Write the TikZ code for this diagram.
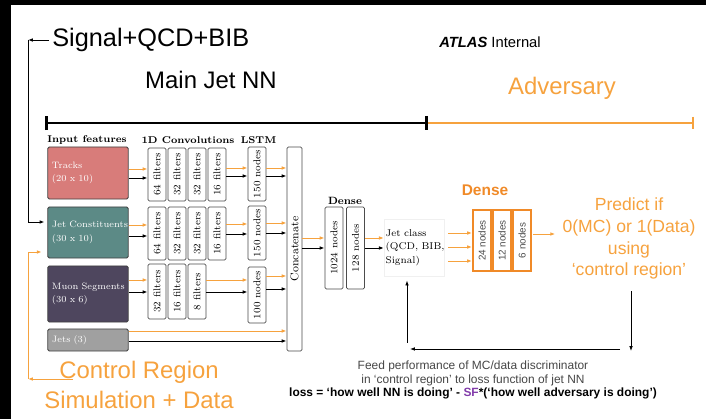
\documentclass[tikz,border=0pt]{standalone}
\usepackage{fontspec}
\usepackage{graphicx}
\usepackage{tikz}
\usetikzlibrary{arrows.meta}

\newfontfamily\helv{Liberation Sans}
\definecolor{trackred}{RGB}{216,124,122}
\definecolor{constteal}{RGB}{92,138,134}
\definecolor{muonpurple}{RGB}{78,70,94}
\definecolor{jetgray}{RGB}{160,160,160}
\definecolor{advorange}{RGB}{240,138,40}
\definecolor{lineorange}{RGB}{246,162,62}
\definecolor{sfpurple}{RGB}{130,60,170}
\definecolor{feedgray}{RGB}{70,70,70}

\begin{document}
\begin{tikzpicture}[x=0.025cm, y=-0.025cm,
    inbox/.style={draw=black!75, line width=0.6pt, rounded corners=1pt, text=white, align=left,
      inner sep=3pt, text width=1.8cm, font=\fontsize{6.6}{9.5}\selectfont},
    layer/.style={draw=black!70, line width=0.6pt, rounded corners=1pt, fill=white, inner sep=0pt,
      minimum width=0.45cm, font=\fontsize{7}{8}\selectfont},
    advlayer/.style={draw=advorange, line width=1.3pt, inner sep=0pt, minimum width=0.45cm,
      minimum height=1.525cm, text=black!70, font=\helv\fontsize{7}{8}\selectfont},
    head/.style={inner sep=0pt, font=\fontsize{7}{8}\selectfont\bfseries},
    big/.style={inner sep=0pt, font=\helv\fontsize{17}{20}\selectfont},
    arr/.style={-{Latex[length=3.5pt,width=2.6pt]}, line width=0.7pt},
    oarr/.style={arr, draw=lineorange}]
  \useasboundingbox (0,0) rectangle (706,419);

  % frame edges of the slide
  \fill[black] (0,0) rectangle (706,5);
  \fill[black] (0,0) rectangle (11,419);

  % Titles
  \node[big, anchor=west, font=\helv\fontsize{18}{20}\selectfont] (sig) at (52,40) {Signal+QCD+BIB};
  \node[big] (mainnn) at (211,80) {Main Jet NN};
  \node[inner sep=0pt, font=\helv\fontsize{10.5}{12}\selectfont] (atlas) at (490,42) {\textbf{\textit{ATLAS}} Internal};
  \node[big, text=lineorange] (adv) at (562,88) {Adversary};
  \node[big, text=lineorange] (ctrl) at (139,372) {Control Region};
  \node[big, text=lineorange] (sim) at (139,400) {Simulation + Data};

  % Bar splitting main net and adversary
  \coordinate (barL) at (45,123);
  \coordinate (barM) at (428,123);
  \coordinate (barR) at (694,123);
  \draw[lineorange, line width=1.3pt, -{Bar[width=9pt]}] (barM) -- (barR);
  \draw[black, line width=1.8pt, {Bar[width=10pt]}-{Bar[width=10pt]}] (barL) -- (barM);

  % Column headings
  \node[head] (inlbl) at (87,140) {Input features};
  \node[head] (convlbl) at (188,140) {1D Convolutions};
  \node[head] (lstmlbl) at (258.5,140) {LSTM};
  \node[head, font=\fontsize{7.5}{8}\selectfont\bfseries] (denselbl) at (345,201) {Dense};
  \node[inner sep=0pt, text=advorange, font=\helv\fontsize{11}{12}\selectfont\bfseries] (advdense) at (485,190) {Dense};

  % Input features
  \node[inbox, fill=trackred, minimum height=1.3cm] (tracks) at (88,173) {Tracks\\(20 x 10)};
  \node[inbox, fill=constteal, minimum height=1.275cm] (jetc) at (88,232.5) {\mbox{Jet Constituents}\\(30 x 10)};
  \node[inbox, fill=muonpurple, minimum height=1.4cm] (muon) at (88,294) {\mbox{Muon Segments}\\(30 x 6)};
  \node[inbox, fill=jetgray, minimum height=0.55cm] (jets) at (88,340) {Jets (3)};

  % Convolution layers
  \foreach \lbl [count=\i] in {64 filters,32 filters,32 filters,16 filters}
    \node[layer, minimum height=1.325cm] (c1\i) at ({137+20*\i},174.5) {\rotatebox{90}{\lbl}};
  \foreach \lbl [count=\i] in {64 filters,32 filters,32 filters,16 filters}
    \node[layer, minimum height=1.325cm] (c2\i) at ({137+20*\i},233.5) {\rotatebox{90}{\lbl}};
  \foreach \lbl [count=\i] in {32 filters,16 filters,8 filters}
    \node[layer, minimum height=1.375cm] (c3\i) at ({137+20*\i},291.5) {\rotatebox{90}{\lbl}};

  % LSTM layers
  \node[layer, minimum height=1.35cm] (l1) at (257,174) {\rotatebox{90}{150 nodes}};
  \node[layer, minimum height=1.35cm] (l2) at (257,233) {\rotatebox{90}{150 nodes}};
  \node[layer, minimum height=1.4cm] (l3) at (257,295) {\rotatebox{90}{100 nodes}};

  % Concatenate and dense layers
  \node[layer, minimum width=0.375cm, minimum height=5.1cm, font=\fontsize{8}{9}\selectfont] (cat) at (294.5,249) {\rotatebox{90}{Concatenate}};
  \node[layer, minimum height=2.05cm] (d1) at (334,248) {\rotatebox{90}{1024 nodes}};
  \node[layer, minimum height=2.05cm] (d2) at (355.5,248) {\rotatebox{90}{128 nodes}};
  \node[draw=black!6, align=left, inner sep=1pt, text width=1.42cm, minimum height=1.425cm,
    font=\fontsize{7}{9.6}\selectfont] (jcls) at (414,247.5) {Jet class\\\mbox{(QCD, BIB,}\\Signal)};

  % Adversary layers
  \node[advlayer] (a1) at (482,240.5) {\rotatebox{90}{24 nodes}};
  \node[advlayer] (a2) at (502,240.5) {\rotatebox{90}{12 nodes}};
  \node[advlayer] (a3) at (522,240.5) {\rotatebox{90}{6 nodes}};
  \node[align=center, text=lineorange, inner sep=2pt, font=\helv\fontsize{12.5}{15.6}\selectfont] (pred) at (629,238.5)
    {Predict if\\0(MC) or 1(Data)\\using\\‘control region’};

  % Inputs from the samples
  \coordinate (sigc) at (28,40);
  \coordinate (ctrlc) at (28,379);
  \draw[arr, shorten <=2pt] (sig.west) -- (sigc);
  \draw[arr, shorten >=2pt] (sigc) |- (jetc.west |- 0,222);
  \draw[oarr, shorten <=-10pt] (ctrl.west |- 0,379) -- (ctrlc);
  \draw[oarr, shorten >=4pt] (ctrlc) |- (jetc.west |- 0,252);

  % Tracks row
  \draw[oarr] (tracks.east |- 0,169) -- (c11.west |- 0,169);
  \draw[arr] (tracks.east |- 0,178) -- (c11.west |- 0,178);
  \draw[oarr] (c14.east |- 0,168) -- (l1.west |- 0,168);
  \draw[arr] (c14.east |- 0,176) -- (l1.west |- 0,176);
  \draw[oarr] (l1.east |- 0,168) -- (cat.west |- 0,168);
  \draw[arr] (l1.east |- 0,176) -- (cat.west |- 0,176);

  % Jet constituents row
  \draw[oarr] (jetc.east |- 0,225) -- (c21.west |- 0,225);
  \draw[arr] (jetc.east |- 0,236) -- (c21.west |- 0,236);
  \draw[oarr] (c24.east |- 0,224) -- (l2.west |- 0,224);
  \draw[arr] (c24.east |- 0,234) -- (l2.west |- 0,234);
  \draw[oarr] (l2.east |- 0,223) -- (cat.west |- 0,223);
  \draw[arr] (l2.east |- 0,233) -- (cat.west |- 0,233);

  % Muon segments row
  \draw[oarr] (muon.east |- 0,280) -- (c31.west |- 0,280);
  \draw[arr] (muon.east |- 0,292) -- (c31.west |- 0,292);
  \draw[oarr] (c33.east |- 0,280) -- (l3.west |- 0,280);
  \draw[arr] (c33.east |- 0,292) -- (l3.west |- 0,292);
  \draw[oarr] (l3.east |- 0,276) -- (cat.west |- 0,276);
  \draw[arr] (l3.east |- 0,289) -- (cat.west |- 0,289);

  % Jets row
  \draw[oarr] (jets.east |- 0,331) -- (cat.west |- 0,331);
  \draw[arr] (jets.east |- 0,341) -- (cat.west |- 0,341);

  % Dense part
  \draw[oarr] (cat.east |- 0,238) -- (d1.west |- 0,238);
  \draw[arr] (cat.east |- 0,248) -- (d1.west |- 0,248);
  \draw[oarr] (d2.east |- 0,238) -- (jcls.west |- 0,238);
  \draw[arr] (d2.east |- 0,248) -- (jcls.west |- 0,248);

  % Into the adversary
  \draw[oarr, shorten <=3pt] (jcls.east |- 0,233) -- (a1.west |- 0,233);
  \draw[oarr, shorten <=3pt] (jcls.east |- 0,247) -- (a1.west |- 0,247);
  \draw[oarr, shorten <=3pt] (jcls.east |- 0,261) -- (a1.west |- 0,261);
  \draw[oarr, shorten <=1pt, shorten >=3pt] (a3.east |- 0,234) -- (pred.west |- 0,234);

  % Feedback loop
  \coordinate (fbR) at (631,351);
  \coordinate (fbRh) at (620,349);
  \coordinate (fbLh) at (410,349);
  \coordinate (fbL) at (407,343);
  \draw[arr, line width=0.6pt, shorten <=6pt] (pred.south -| fbR) -- (fbR);
  \draw[arr, line width=0.6pt] (fbRh) -- (fbLh);
  \draw[arr, line width=0.6pt, shorten >=3pt] (fbL) -- (jcls.south -| fbL);
  \node[align=center, inner sep=0pt, text=feedgray, font=\helv\fontsize{8.5}{9.9}\selectfont] (feed) at (473,380)
    {Feed performance of MC/data discriminator\\in ‘control region’ to loss function of jet NN\\
     \textcolor{black}{\bfseries loss = ‘how well NN is doing’ - \textcolor{sfpurple}{SF}*(‘how well adversary is doing’)}};
\end{tikzpicture}
\end{document}
